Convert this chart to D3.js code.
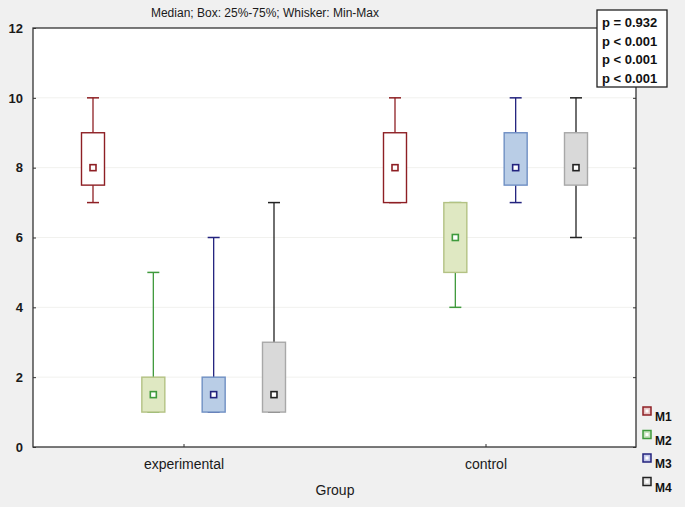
<!DOCTYPE html>
<html>
<head>
<meta charset="utf-8">
<script src="https://cdn.jsdelivr.net/npm/d3@7"></script>
<style>
  html, body { margin: 0; padding: 0; background: #f0f0f0; }
  svg { display: block; font-family: "Liberation Sans", Arial, sans-serif; }
</style>
</head>
<body>
<svg id="chart" width="685" height="507"></svg>
<script>
// ---- data ----
const groups = ["experimental", "control"];
const measures = ["M1", "M2", "M3", "M4"];
// [min, q1, median, q3, max] per measure, per group
const experimental = [
  [7, 7.5, 8, 9, 10],
  [1, 1, 1.5, 2, 5],
  [1, 1, 1.5, 2, 6],
  [1, 1, 1.5, 3, 7]
];
const control = [
  [7, 7, 8, 9, 10],
  [4, 5, 6, 7, 7],
  [7, 7.5, 8, 9, 10],
  [6, 7.5, 8, 9, 10]
];
const yTicks = [0, 2, 4, 6, 8, 10, 12];
const pValues = ["p = 0.932", "p < 0.001", "p < 0.001", "p < 0.001"];

// ---- style ----
const stroke = { M1: "#8e1f24", M2: "#3f9a3c", M3: "#23237e", M4: "#222222" };
const boxFill = { M1: "#ffffff", M2: "#dfe8c2", M3: "#b9cde6", M4: "#d9d9d9" };
const boxEdge = { M1: "#8e1f24", M2: "#b3c283", M3: "#6f8fc4", M4: "#a8a8a8" };
const legFill = { M1: "#e8c4c4", M2: "#c9e3c0", M3: "#c4c8ea", M4: "#e0e0e0" };

const svg = d3.select("#chart");
const L = 33, R = 636, T = 28, B = 447;

const y = d3.scaleLinear().domain([0, 12]).range([B, T]);
// group centres from the picture: ~183 and ~486
const gx = d3.scalePoint().domain(groups).range([183.5, 485.5]);
const xm = d3.scalePoint().domain(measures).range([-90.5, 90.5]);

// plot area
svg.append("rect").attr("x", L).attr("y", T).attr("width", R - L).attr("height", B - T)
  .attr("fill", "#ffffff");

// faint grid
svg.append("g").selectAll("line").data(yTicks.filter(d => d > 0 && d < 12)).join("line")
  .attr("x1", L).attr("x2", R).attr("y1", d => y(d)).attr("y2", d => y(d))
  .attr("stroke", "#f1f1ee").attr("stroke-width", 1);

// axes
const gl = svg.append("g").attr("transform", `translate(${L},0)`)
  .call(d3.axisLeft(y).tickValues(yTicks).tickSize(-3).tickPadding(10));
const gr = svg.append("g").attr("transform", `translate(${R},0)`)
  .call(d3.axisRight(y).tickValues(yTicks).tickSize(-3).tickFormat(""));
const gb = svg.append("g").attr("transform", `translate(0,${B})`)
  .call(d3.axisBottom(gx).tickSize(-3).tickPadding(12));
[gl, gr, gb].forEach(g => {
  g.select(".domain").remove();
  g.selectAll(".tick line").attr("stroke", "#333");
  g.selectAll("text").attr("fill", "#1a1a1a").attr("font-size", 13);
});
gl.selectAll("text").attr("font-weight", 700);
gb.selectAll("text").attr("font-size", 14);

// frame
svg.append("rect").attr("x", L).attr("y", T).attr("width", R - L).attr("height", B - T)
  .attr("fill", "none").attr("stroke", "#333").attr("stroke-width", 1.3);

// boxes
const data = [];
groups.forEach((g, gi) => {
  const rows = gi === 0 ? experimental : control;
  measures.forEach((m, mi) => {
    const [mn, q1, md, q3, mx] = rows[mi];
    data.push({ g, m, mn, q1, md, q3, mx });
  });
});
const bw = 23, cw = 12;
const items = svg.append("g").selectAll("g").data(data).join("g")
  .attr("transform", d => `translate(${gx(d.g) + xm(d.m)},0)`);
items.append("line")
  .attr("y1", d => y(d.mx)).attr("y2", d => y(d.mn))
  .attr("stroke", d => stroke[d.m]).attr("stroke-width", 1.3);
items.selectAll("line.cap").data(d => [[d, d.mx], [d, d.mn]]).join("line")
  .attr("class", "cap")
  .attr("x1", -cw / 2).attr("x2", cw / 2)
  .attr("y1", ([, v]) => y(v)).attr("y2", ([, v]) => y(v))
  .attr("stroke", ([d]) => stroke[d.m]).attr("stroke-width", 1.5);
items.append("rect")
  .attr("x", -bw / 2).attr("width", bw)
  .attr("y", d => y(d.q3)).attr("height", d => y(d.q1) - y(d.q3))
  .attr("fill", d => boxFill[d.m])
  .attr("stroke", d => boxEdge[d.m]).attr("stroke-width", 1.4);
items.append("rect")
  .attr("x", -3).attr("width", 6)
  .attr("y", d => y(d.md) - 3).attr("height", 6)
  .attr("fill", "#ffffff")
  .attr("stroke", d => stroke[d.m]).attr("stroke-width", 1.6);

// title & labels
svg.append("text").attr("x", 265).attr("y", 17).attr("text-anchor", "middle")
  .attr("font-size", 12).attr("fill", "#1a1a1a")
  .text("Median; Box: 25%-75%; Whisker: Min-Max");
svg.append("text").attr("x", 335).attr("y", 495).attr("text-anchor", "middle")
  .attr("font-size", 14).attr("fill", "#1a1a1a").text("Group");

// p-value box
svg.append("rect").attr("x", 597).attr("y", 10).attr("width", 70).attr("height", 77)
  .attr("fill", "#ffffff").attr("stroke", "#222").attr("stroke-width", 1.3);
svg.append("g").selectAll("text").data(pValues).join("text")
  .attr("x", 602).attr("y", (d, i) => 27 + i * 18.6)
  .attr("font-size", 13).attr("font-weight", 700).attr("fill", "#111")
  .text(d => d);

// legend
const lg = svg.append("g").selectAll("g").data(measures).join("g")
  .attr("transform", (d, i) => `translate(647,${411 + i * 23.5})`);
lg.append("rect").attr("x", -4).attr("y", -4).attr("width", 8).attr("height", 8)
  .attr("fill", d => legFill[d])
  .attr("stroke", d => stroke[d]).attr("stroke-width", 1.5);
lg.append("rect").attr("x", -1.5).attr("y", -1.5).attr("width", 3).attr("height", 3)
  .attr("fill", "#ffffff");
lg.append("text").attr("x", 8).attr("y", 10)
  .attr("font-size", 12).attr("font-weight", 700).attr("fill", "#111")
  .text(d => d);
</script>
</body>
</html>
